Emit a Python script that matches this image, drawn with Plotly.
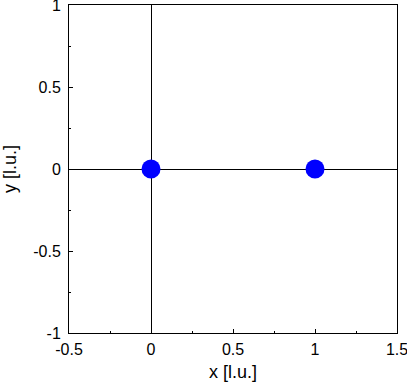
import plotly.graph_objects as go

x_vals = [0, 1]
y_vals = [0, 0]
x_ticks = [-0.5, 0, 0.5, 1, 1.5]
x_ticklabels = ["-0.5", "0", "0.5", "1", "1.5"]
y_ticks = [-1, -0.5, 0, 0.5, 1]
y_ticklabels = ["-1", "-0.5", "0", "0.5", "1"]

fig = go.Figure()
fig.add_trace(go.Scatter(x=x_vals, y=y_vals, mode="markers",
                         marker=dict(color="#0000ff", size=19, line=dict(width=0))))

axis_common = dict(
    showgrid=False, zeroline=True, zerolinecolor="black", zerolinewidth=1,
    showline=True, linecolor="black", linewidth=1, mirror=True,
    ticks="inside", ticklen=4, tickcolor="black", tickwidth=1,
    minor=dict(ticks="inside", ticklen=2, tickcolor="black", showgrid=False),
    tickfont=dict(family="Liberation Sans, Arial", size=16, color="black"),
    automargin=False, ticklabeloverflow="allow",
)

fig.update_layout(
    width=407, height=382,
    margin=dict(l=69, r=10, t=5, b=49),
    plot_bgcolor="white", paper_bgcolor="white",
    showlegend=False,
    font=dict(family="Liberation Sans, Arial", size=16, color="black"),
    xaxis=dict(range=[-0.5, 1.5], tickvals=x_ticks, ticktext=x_ticklabels,
               minor_dtick=0.25, ticklabelstandoff=2,
               title=dict(text="x [l.u.]", standoff=10, font=dict(size=18)), **axis_common),
    yaxis=dict(range=[-1, 1], tickvals=y_ticks, ticktext=y_ticklabels,
               minor_dtick=0.25, ticklabelstandoff=4,
               title=dict(text="y [l.u.]", standoff=18, font=dict(size=18)), **axis_common),
)

fig.write_html("out.html")
